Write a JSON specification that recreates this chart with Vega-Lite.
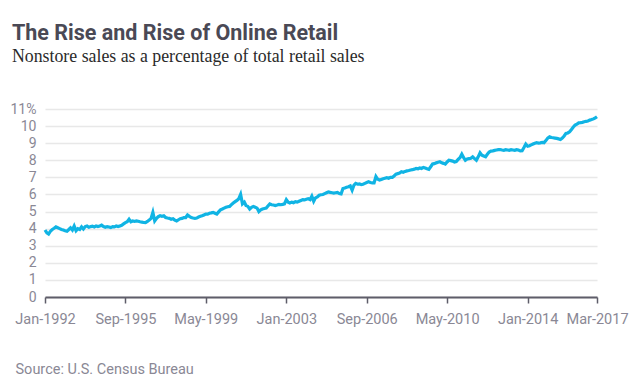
{
  "$schema": "https://vega.github.io/schema/vega-lite/v6.json",
  "autosize": "none",
  "width": 552,
  "height": 188,
  "padding": {"left": 45, "top": 109, "right": 44, "bottom": 80},
  "background": "white",
  "title": {
    "text": "The Rise and Rise of Online Retail",
    "subtitle": "Nonstore sales as a percentage of total retail sales",
    "anchor": "start",
    "frame": "group",
    "dx": -33,
    "offset": 36,
    "font": "Roboto",
    "fontSize": 21.5,
    "fontWeight": "bold",
    "color": "#4a4955",
    "subtitleFont": "Liberation Serif",
    "subtitleFontSize": 17.8,
    "subtitleColor": "#2a2a2a",
    "subtitlePadding": 4
  },
  "data": {
    "values": [
      {"d":"1992-01-01","v":3.92},{"d":"1992-02-01","v":3.75},{"d":"1992-03-01","v":3.68},{"d":"1992-04-01","v":3.85},{"d":"1992-05-01","v":3.95},{"d":"1992-06-01","v":4.02},{"d":"1992-07-01","v":4.1},{"d":"1992-08-01","v":4.05},{"d":"1992-09-01","v":4.0},{"d":"1992-10-01","v":3.95},{"d":"1992-11-01","v":3.92},{"d":"1992-12-01","v":3.88},
      {"d":"1993-01-01","v":3.85},{"d":"1993-02-01","v":3.95},{"d":"1993-03-01","v":4.05},{"d":"1993-04-01","v":3.92},{"d":"1993-05-01","v":4.15},{"d":"1993-06-01","v":3.88},{"d":"1993-07-01","v":4.0},{"d":"1993-08-01","v":3.95},{"d":"1993-09-01","v":4.1},{"d":"1993-10-01","v":3.98},{"d":"1993-11-01","v":4.12},{"d":"1993-12-01","v":4.15},
      {"d":"1994-01-01","v":4.08},{"d":"1994-02-01","v":4.12},{"d":"1994-03-01","v":4.14},{"d":"1994-04-01","v":4.1},{"d":"1994-05-01","v":4.16},{"d":"1994-06-01","v":4.12},{"d":"1994-07-01","v":4.15},{"d":"1994-08-01","v":4.2},{"d":"1994-09-01","v":4.12},{"d":"1994-10-01","v":4.08},{"d":"1994-11-01","v":4.12},{"d":"1994-12-01","v":4.1},
      {"d":"1995-01-01","v":4.06},{"d":"1995-02-01","v":4.12},{"d":"1995-03-01","v":4.1},{"d":"1995-04-01","v":4.15},{"d":"1995-05-01","v":4.12},{"d":"1995-06-01","v":4.16},{"d":"1995-07-01","v":4.2},{"d":"1995-08-01","v":4.28},{"d":"1995-09-01","v":4.35},{"d":"1995-10-01","v":4.4},{"d":"1995-11-01","v":4.55},{"d":"1995-12-01","v":4.4},
      {"d":"1996-01-01","v":4.45},{"d":"1996-02-01","v":4.42},{"d":"1996-03-01","v":4.45},{"d":"1996-04-01","v":4.43},{"d":"1996-05-01","v":4.4},{"d":"1996-06-01","v":4.38},{"d":"1996-07-01","v":4.36},{"d":"1996-08-01","v":4.35},{"d":"1996-09-01","v":4.42},{"d":"1996-10-01","v":4.5},{"d":"1996-11-01","v":4.6},{"d":"1996-12-01","v":4.95},
      {"d":"1997-01-01","v":4.45},{"d":"1997-02-01","v":4.6},{"d":"1997-03-01","v":4.7},{"d":"1997-04-01","v":4.75},{"d":"1997-05-01","v":4.72},{"d":"1997-06-01","v":4.75},{"d":"1997-07-01","v":4.65},{"d":"1997-08-01","v":4.62},{"d":"1997-09-01","v":4.6},{"d":"1997-10-01","v":4.55},{"d":"1997-11-01","v":4.58},{"d":"1997-12-01","v":4.5},
      {"d":"1998-01-01","v":4.45},{"d":"1998-02-01","v":4.52},{"d":"1998-03-01","v":4.58},{"d":"1998-04-01","v":4.6},{"d":"1998-05-01","v":4.65},{"d":"1998-06-01","v":4.65},{"d":"1998-07-01","v":4.8},{"d":"1998-08-01","v":4.72},{"d":"1998-09-01","v":4.65},{"d":"1998-10-01","v":4.62},{"d":"1998-11-01","v":4.6},{"d":"1998-12-01","v":4.62},
      {"d":"1999-01-01","v":4.68},{"d":"1999-02-01","v":4.72},{"d":"1999-03-01","v":4.75},{"d":"1999-04-01","v":4.8},{"d":"1999-05-01","v":4.85},{"d":"1999-06-01","v":4.85},{"d":"1999-07-01","v":4.9},{"d":"1999-08-01","v":4.92},{"d":"1999-09-01","v":4.95},{"d":"1999-10-01","v":4.9},{"d":"1999-11-01","v":4.85},{"d":"1999-12-01","v":4.98},
      {"d":"2000-01-01","v":5.1},{"d":"2000-02-01","v":5.15},{"d":"2000-03-01","v":5.2},{"d":"2000-04-01","v":5.25},{"d":"2000-05-01","v":5.28},{"d":"2000-06-01","v":5.3},{"d":"2000-07-01","v":5.4},{"d":"2000-08-01","v":5.5},{"d":"2000-09-01","v":5.58},{"d":"2000-10-01","v":5.65},{"d":"2000-11-01","v":5.75},{"d":"2000-12-01","v":6.0},
      {"d":"2001-01-01","v":5.45},{"d":"2001-02-01","v":5.55},{"d":"2001-03-01","v":5.35},{"d":"2001-04-01","v":5.3},{"d":"2001-05-01","v":5.15},{"d":"2001-06-01","v":5.25},{"d":"2001-07-01","v":5.3},{"d":"2001-08-01","v":5.25},{"d":"2001-09-01","v":5.2},{"d":"2001-10-01","v":5.0},{"d":"2001-11-01","v":5.1},{"d":"2001-12-01","v":5.15},
      {"d":"2002-01-01","v":5.18},{"d":"2002-02-01","v":5.2},{"d":"2002-03-01","v":5.32},{"d":"2002-04-01","v":5.45},{"d":"2002-05-01","v":5.4},{"d":"2002-06-01","v":5.38},{"d":"2002-07-01","v":5.35},{"d":"2002-08-01","v":5.38},{"d":"2002-09-01","v":5.42},{"d":"2002-10-01","v":5.4},{"d":"2002-11-01","v":5.42},{"d":"2002-12-01","v":5.45},
      {"d":"2003-01-01","v":5.7},{"d":"2003-02-01","v":5.55},{"d":"2003-03-01","v":5.5},{"d":"2003-04-01","v":5.55},{"d":"2003-05-01","v":5.52},{"d":"2003-06-01","v":5.58},{"d":"2003-07-01","v":5.55},{"d":"2003-08-01","v":5.6},{"d":"2003-09-01","v":5.65},{"d":"2003-10-01","v":5.7},{"d":"2003-11-01","v":5.68},{"d":"2003-12-01","v":5.72},
      {"d":"2004-01-01","v":5.75},{"d":"2004-02-01","v":5.7},{"d":"2004-03-01","v":5.9},{"d":"2004-04-01","v":5.6},{"d":"2004-05-01","v":5.8},{"d":"2004-06-01","v":5.85},{"d":"2004-07-01","v":5.95},{"d":"2004-08-01","v":5.98},{"d":"2004-09-01","v":6.0},{"d":"2004-10-01","v":6.05},{"d":"2004-11-01","v":6.1},{"d":"2004-12-01","v":6.15},
      {"d":"2005-01-01","v":6.12},{"d":"2005-02-01","v":6.1},{"d":"2005-03-01","v":6.08},{"d":"2005-04-01","v":6.1},{"d":"2005-05-01","v":6.12},{"d":"2005-06-01","v":6.05},{"d":"2005-07-01","v":6.03},{"d":"2005-08-01","v":6.35},{"d":"2005-09-01","v":6.38},{"d":"2005-10-01","v":6.42},{"d":"2005-11-01","v":6.45},{"d":"2005-12-01","v":6.5},
      {"d":"2006-01-01","v":6.25},{"d":"2006-02-01","v":6.55},{"d":"2006-03-01","v":6.65},{"d":"2006-04-01","v":6.6},{"d":"2006-05-01","v":6.62},{"d":"2006-06-01","v":6.58},{"d":"2006-07-01","v":6.6},{"d":"2006-08-01","v":6.65},{"d":"2006-09-01","v":6.7},{"d":"2006-10-01","v":6.74},{"d":"2006-11-01","v":6.7},{"d":"2006-12-01","v":6.68},
      {"d":"2007-01-01","v":6.68},{"d":"2007-02-01","v":7.05},{"d":"2007-03-01","v":6.9},{"d":"2007-04-01","v":6.84},{"d":"2007-05-01","v":6.88},{"d":"2007-06-01","v":6.92},{"d":"2007-07-01","v":6.95},{"d":"2007-08-01","v":6.98},{"d":"2007-09-01","v":6.95},{"d":"2007-10-01","v":7.0},{"d":"2007-11-01","v":7.0},{"d":"2007-12-01","v":7.08},
      {"d":"2008-01-01","v":7.19},{"d":"2008-02-01","v":7.22},{"d":"2008-03-01","v":7.25},{"d":"2008-04-01","v":7.33},{"d":"2008-05-01","v":7.3},{"d":"2008-06-01","v":7.35},{"d":"2008-07-01","v":7.38},{"d":"2008-08-01","v":7.4},{"d":"2008-09-01","v":7.43},{"d":"2008-10-01","v":7.45},{"d":"2008-11-01","v":7.48},{"d":"2008-12-01","v":7.52},
      {"d":"2009-01-01","v":7.5},{"d":"2009-02-01","v":7.55},{"d":"2009-03-01","v":7.52},{"d":"2009-04-01","v":7.58},{"d":"2009-05-01","v":7.55},{"d":"2009-06-01","v":7.5},{"d":"2009-07-01","v":7.47},{"d":"2009-08-01","v":7.62},{"d":"2009-09-01","v":7.78},{"d":"2009-10-01","v":7.8},{"d":"2009-11-01","v":7.85},{"d":"2009-12-01","v":7.88},
      {"d":"2010-01-01","v":7.91},{"d":"2010-02-01","v":7.85},{"d":"2010-03-01","v":7.82},{"d":"2010-04-01","v":7.78},{"d":"2010-05-01","v":7.9},{"d":"2010-06-01","v":8.0},{"d":"2010-07-01","v":7.98},{"d":"2010-08-01","v":7.95},{"d":"2010-09-01","v":7.9},{"d":"2010-10-01","v":7.92},{"d":"2010-11-01","v":8.05},{"d":"2010-12-01","v":8.15},
      {"d":"2011-01-01","v":8.36},{"d":"2011-02-01","v":8.15},{"d":"2011-03-01","v":8.0},{"d":"2011-04-01","v":8.08},{"d":"2011-05-01","v":8.1},{"d":"2011-06-01","v":8.12},{"d":"2011-07-01","v":8.2},{"d":"2011-08-01","v":8.1},{"d":"2011-09-01","v":8.0},{"d":"2011-10-01","v":8.2},{"d":"2011-11-01","v":8.44},{"d":"2011-12-01","v":8.3},
      {"d":"2012-01-01","v":8.25},{"d":"2012-02-01","v":8.2},{"d":"2012-03-01","v":8.35},{"d":"2012-04-01","v":8.48},{"d":"2012-05-01","v":8.54},{"d":"2012-06-01","v":8.55},{"d":"2012-07-01","v":8.58},{"d":"2012-08-01","v":8.6},{"d":"2012-09-01","v":8.62},{"d":"2012-10-01","v":8.63},{"d":"2012-11-01","v":8.6},{"d":"2012-12-01","v":8.58},
      {"d":"2013-01-01","v":8.62},{"d":"2013-02-01","v":8.6},{"d":"2013-03-01","v":8.58},{"d":"2013-04-01","v":8.62},{"d":"2013-05-01","v":8.6},{"d":"2013-06-01","v":8.58},{"d":"2013-07-01","v":8.62},{"d":"2013-08-01","v":8.6},{"d":"2013-09-01","v":8.55},{"d":"2013-10-01","v":8.56},{"d":"2013-11-01","v":8.75},{"d":"2013-12-01","v":8.95},
      {"d":"2014-01-01","v":8.82},{"d":"2014-02-01","v":8.85},{"d":"2014-03-01","v":8.9},{"d":"2014-04-01","v":8.95},{"d":"2014-05-01","v":9.0},{"d":"2014-06-01","v":9.03},{"d":"2014-07-01","v":9.0},{"d":"2014-08-01","v":9.02},{"d":"2014-09-01","v":9.05},{"d":"2014-10-01","v":9.03},{"d":"2014-11-01","v":9.15},{"d":"2014-12-01","v":9.3},
      {"d":"2015-01-01","v":9.37},{"d":"2015-02-01","v":9.33},{"d":"2015-03-01","v":9.32},{"d":"2015-04-01","v":9.3},{"d":"2015-05-01","v":9.28},{"d":"2015-06-01","v":9.25},{"d":"2015-07-01","v":9.22},{"d":"2015-08-01","v":9.3},{"d":"2015-09-01","v":9.42},{"d":"2015-10-01","v":9.57},{"d":"2015-11-01","v":9.6},{"d":"2015-12-01","v":9.67},
      {"d":"2016-01-01","v":9.8},{"d":"2016-02-01","v":9.95},{"d":"2016-03-01","v":10.06},{"d":"2016-04-01","v":10.12},{"d":"2016-05-01","v":10.19},{"d":"2016-06-01","v":10.2},{"d":"2016-07-01","v":10.22},{"d":"2016-08-01","v":10.25},{"d":"2016-09-01","v":10.28},{"d":"2016-10-01","v":10.3},{"d":"2016-11-01","v":10.35},{"d":"2016-12-01","v":10.38},
      {"d":"2017-01-01","v":10.42},{"d":"2017-02-01","v":10.48},{"d":"2017-03-01","v":10.55}
    ]
  },
  "mark": {"type": "line", "color": "#10b4e4", "strokeWidth": 3.2, "strokeJoin": "miter", "clip": false},
  "encoding": {
    "x": {
      "field": "d",
      "type": "temporal",
      "scale": {"type": "utc", "domain": [{"year": 1992, "month": 1, "date": 1, "utc": true}, {"year": 2017, "month": 3, "date": 1, "utc": true}], "nice": false},
      "axis": {
        "title": "Source: U.S. Census Bureau",
        "titleAnchor": "start",
        "titleAlign": "left",
        "titleBaseline": "middle",
        "titleX": -30,
        "titleY": 72,
        "titleFont": "Roboto",
        "titleFontSize": 14.5,
        "titleFontWeight": "normal",
        "titleColor": "#8a8895",
        "values": [
          {"year": 1992, "month": 1, "date": 1, "utc": true},
          {"year": 1995, "month": 9, "date": 1, "utc": true},
          {"year": 1999, "month": 5, "date": 1, "utc": true},
          {"year": 2003, "month": 1, "date": 1, "utc": true},
          {"year": 2006, "month": 9, "date": 1, "utc": true},
          {"year": 2010, "month": 5, "date": 1, "utc": true},
          {"year": 2014, "month": 1, "date": 1, "utc": true},
          {"year": 2017, "month": 3, "date": 1, "utc": true}
        ],
        "format": "%b-%Y",
        "grid": false,
        "domainColor": "#5e5d69",
        "domainWidth": 2,
        "tickColor": "#5e5d69",
        "tickWidth": 1.5,
        "tickSize": 6,
        "labelFont": "Roboto",
        "labelFontSize": 14.5,
        "labelColor": "#8a8895",
        "labelPadding": 9,
        "labelFlush": false,
        "labelOverlap": false
      }
    },
    "y": {
      "field": "v",
      "type": "quantitative",
      "scale": {"domain": [0, 11], "nice": false, "zero": true},
      "axis": {
        "title": null,
        "values": [0,1,2,3,4,5,6,7,8,9,10,11],
        "labelExpr": "datum.value == 11 ? '11%' : datum.label",
        "domain": false,
        "ticks": false,
        "grid": true,
        "gridColor": "#e8e8e8",
        "gridWidth": 1.5,
        "labelFont": "Roboto",
        "labelFontSize": 14,
        "labelColor": "#8a8895",
        "labelPadding": 9
      }
    }
  },
  "config": {"view": {"stroke": null}}
}
